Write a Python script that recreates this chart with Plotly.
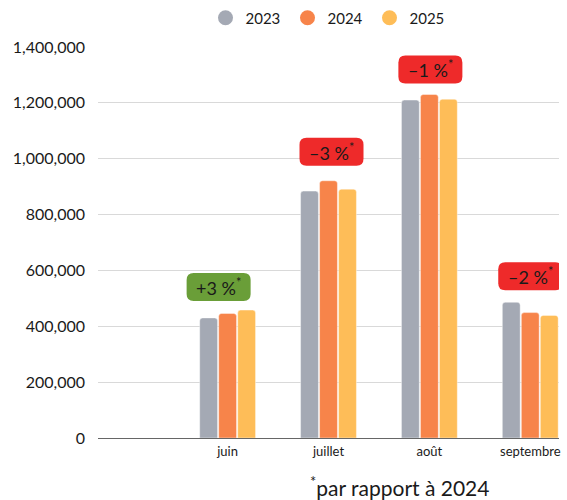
import plotly.graph_objects as go

months = ["juin", "juillet", "août", "septembre"]
years = ["2023", "2024", "2025"]
v2023 = [430000, 884000, 1210000, 486000]
v2024 = [446000, 921000, 1230000, 449000]
v2025 = [458000, 891000, 1213000, 439000]
badges = ["+3 %", "\u20133 %", "\u20131 %", "\u20132 %"]
badge_colors = ["#6a9e38", "#ee2a2a", "#ee2a2a", "#ee2a2a"]
footnote = "par rapport à 2024"

colors = ["#a4a9b4", "#f7844a", "#febd58"]
series = [v2023, v2024, v2025]
FONT = "Lato"

fig = go.Figure()
for name, vals, col in zip(years, series, colors):
    fig.add_trace(go.Bar(x=months, y=vals, name=name, marker_color=col,
                         marker_line=dict(width=0.6, color="rgba(255,255,255,0.7)"),
                         showlegend=False, hoverinfo="skip"))
for name, col in zip(years, colors):
    fig.add_trace(go.Scatter(x=[None], y=[None], mode="markers", name=name,
                             marker=dict(symbol="circle", size=15, color=col)))

# badge offsets (pixels) relative to the top of the tallest bar of each group
dx = [-9, 3, 1, 0]
dy = [23, 29, 25, 26]
w, h, r = 32, 14, 7
shapes = []
annotations = []
for i, m in enumerate(months):
    top = max(v2023[i], v2024[i], v2025[i])
    cx, cy = dx[i], dy[i]
    x0, x1, y0, y1 = cx - w, cx + w, cy - h, cy + h
    path = (f"M {x0+r},{y0} L {x1-r},{y0} Q {x1},{y0} {x1},{y0+r} "
            f"L {x1},{y1-r} Q {x1},{y1} {x1-r},{y1} L {x0+r},{y1} "
            f"Q {x0},{y1} {x0},{y1-r} L {x0},{y0+r} Q {x0},{y0} {x0+r},{y0} Z")
    shapes.append(dict(type="path", xref="x", yref="y", xsizemode="pixel", ysizemode="pixel",
                       xanchor=m, yanchor=top, path=path,
                       fillcolor=badge_colors[i], line=dict(width=0), layer="above"))
    annotations.append(dict(x=m, y=top, xref="x", yref="y", xshift=cx, yshift=cy,
                            text=badges[i] + "<sup>*</sup>", showarrow=False,
                            font=dict(family=FONT, size=18, color="#1a1a1a"),
                            xanchor="center", yanchor="middle"))

annotations.append(dict(x=0.655, y=0, xref="paper", yref="paper", yshift=-48,
                        text="<sup>*</sup>" + footnote, showarrow=False,
                        font=dict(family=FONT, size=21, color="#1a1a1a"),
                        xanchor="center", yanchor="middle"))

fig.update_layout(
    width=567, height=500,
    margin=dict(l=98, r=8, t=47, b=62, autoexpand=False),
    paper_bgcolor="white", plot_bgcolor="white",
    barmode="group", bargap=0.435, bargroupgap=0.06, barcornerradius=3,
    font=dict(family=FONT, size=13, color="#1a1a1a"),
    showlegend=True,
    legend=dict(orientation="h", x=0.5, xanchor="center", xref="paper",
                y=0.964, yanchor="middle", yref="container",
                font=dict(size=15, family=FONT),
                itemwidth=30, entrywidth=37, traceorder="normal"),
    shapes=shapes,
    annotations=annotations,
)
fig.update_xaxes(type="category", categoryorder="array", categoryarray=months,
                 range=[-1.285, 3.285], showgrid=False, showline=False, ticks="",
                 tickfont=dict(size=13, family=FONT), ticklabelstandoff=4)
fig.update_yaxes(range=[0, 1400000], tickvals=[0, 200000, 400000, 600000, 800000, 1000000, 1200000, 1400000],
                 tickformat=",", showgrid=True, gridcolor="#d9d9d9", gridwidth=1,
                 zeroline=True, zerolinecolor="#666666", zerolinewidth=1,
                 showline=False, ticks="", ticklabelstandoff=12,
                 tickfont=dict(size=16, family=FONT))

fig.write_html("out.html", config={"displayModeBar": False},
               post_script="document.body.style.margin='0';")
